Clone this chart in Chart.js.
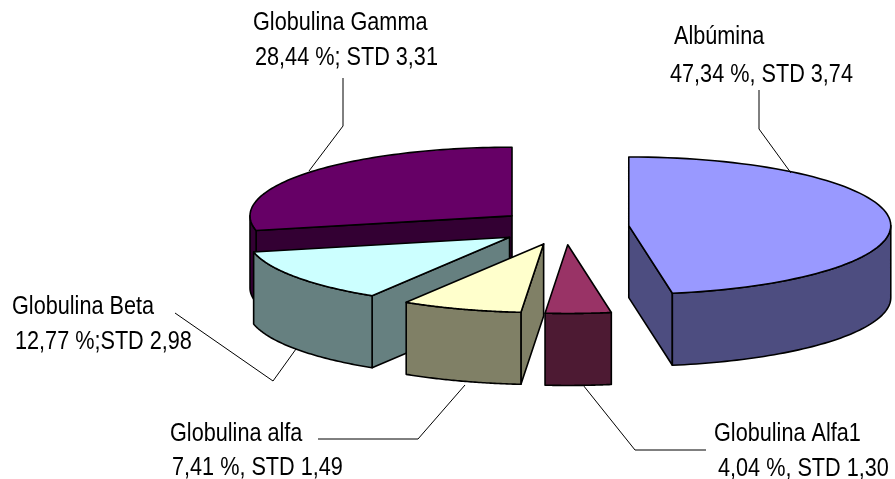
<!DOCTYPE html>
<html>
<head>
<meta charset="utf-8">
<title>Proteinas</title>
<script src="https://cdn.jsdelivr.net/npm/chart.js@4"></script>
<style>
html,body{margin:0;padding:0;background:#fff;overflow:hidden;}
canvas{display:block;}
</style>
</head>
<body>
<canvas id="mainChart" width="895" height="479"></canvas>
<script>
// ================= DATA =================
const categories = ["Albúmina","Globulina Alfa1","Globulina alfa","Globulina Beta","Globulina Gamma"]
const percentages = [47.34,4.04,7.41,12.77,28.44]
const details = ["47,34 %, STD 3,74","4,04 %, STD 1,30","7,41 %, STD 1,49","12,77 %;STD 2,98","28,44 %; STD 3,31"]

// ================= STYLE =================
const topColors = ["#9999ff","#993366","#ffffcc","#ccffff","#660066"]
const sideColors = ["#4d4d80","#4d1a33","#808066","#668080","#330033"]
const explode = [64,68,68,68,68]

const CX = 565, CY = 227, SQUASH = 0.262, RADIUS = 262, DEPTH = 72
const FONT_PX = 25, TEXT_SQUEEZE = 0.866

// name x,y then detail x,y
const labelPos = [
[674,44,670,82],
[714,441,718,476],
[170,441,172,475],
[12,314,15,349],
[253,30,255,65]
]

// leader lines
const leaders = [
[[759,90],[759,129],[791,173]],
[[583,385],[635,450],[706,450]],
[[318,439],[418,439],[465,385]],
[[175,313],[273,381],[296,349]],
[[343,78],[343,126],[309,171]]
]

// ================= PROJECTION =================
function sliceGeo(el,i){
let mid = (el.startAngle+el.endAngle)/2
let ox = Math.cos(mid)*explode[i]
let oy = Math.sin(mid)*explode[i]
return {
ox,oy,
at(a,drop){
return [CX+ox+el.outerRadius*Math.cos(a), CY+SQUASH*(oy+el.outerRadius*Math.sin(a))+(drop||0)]
},
center(drop){
return [CX+ox, CY+SQUASH*oy+(drop||0)]
}
}
}

function quad(ctx,pts,fill){
ctx.beginPath()
pts.forEach((p,n)=>{ n?ctx.lineTo(p[0],p[1]):ctx.moveTo(p[0],p[1]) })
ctx.closePath()
ctx.fillStyle = fill
ctx.fill()
ctx.stroke()
}

function drawWalls(ctx,el,i){
let g = sliceGeo(el,i)
let s = el.startAngle, e = el.endAngle

// radial faces, only those turned to the viewer
if(Math.cos(s)<-1e-6) quad(ctx,[g.center(),g.at(s),g.at(s,DEPTH),g.center(DEPTH)],sideColors[i])
if(Math.cos(e)>1e-6) quad(ctx,[g.center(),g.at(e),g.at(e,DEPTH),g.center(DEPTH)],sideColors[i])

// outer face, only the front half can be seen
let from = Math.max(s,0), to = Math.min(e,Math.PI)
if(to>from){
let pts = []
for(let n=0;n<=60;n++) pts.push(g.at(from+(to-from)*n/60))
for(let n=60;n>=0;n--) pts.push(g.at(from+(to-from)*n/60,DEPTH))
quad(ctx,pts,sideColors[i])
}
}

const pie3d = {
id:"pie3d",
beforeDatasetsDraw(chart){
let ctx = chart.ctx
let arcs = chart.getDatasetMeta(0).data

ctx.save()
ctx.strokeStyle = "#000"
ctx.lineWidth = 1.6
ctx.lineJoin = "round"
for(let i=arcs.length-1;i>=0;i--) drawWalls(ctx,arcs[i],i)

// the library's own arcs squashed into the tilted top faces
// (its offset option also grows the radius, so the slices are moved here)
arcs.forEach((el,i)=>{
let g = sliceGeo(el,i)
ctx.save()
ctx.translate(CX,CY)
ctx.scale(1,SQUASH)
ctx.translate(g.ox-el.x,g.oy-el.y)
el.draw(ctx)
ctx.restore()

ctx.beginPath()
let c = g.center()
ctx.moveTo(c[0],c[1])
for(let n=0;n<=80;n++){
let p = g.at(el.startAngle+(el.endAngle-el.startAngle)*n/80)
ctx.lineTo(p[0],p[1])
}
ctx.closePath()
ctx.stroke()
})
ctx.restore()
return false
},
afterDraw(chart){
let ctx = chart.ctx
ctx.save()
ctx.strokeStyle = "#000"
ctx.lineWidth = 1
leaders.forEach(l=>{
ctx.beginPath()
l.forEach((p,n)=>{ n?ctx.lineTo(p[0],p[1]):ctx.moveTo(p[0],p[1]) })
ctx.stroke()
})
ctx.fillStyle = "#000"
ctx.font = FONT_PX+'px "Liberation Sans"'
ctx.textBaseline = "alphabetic"
function put(text,x,y){
ctx.save()
ctx.translate(x,y)
ctx.scale(TEXT_SQUEEZE,1)
ctx.fillText(text,0,0)
ctx.restore()
}
categories.forEach((name,i)=>{
let p = labelPos[i]
put(name,p[0],p[1])
put(details[i],p[2],p[3])
})
ctx.restore()
}
}

// ================= MAIN =================
new Chart(document.getElementById("mainChart"),{
type:"pie",
data:{
labels:categories,
datasets:[{
data:percentages,
backgroundColor:topColors,
borderWidth:0
}]
},
options:{
responsive:false,
animation:false,
radius:RADIUS,
plugins:{legend:{display:false},tooltip:{enabled:false}}
},
plugins:[pie3d]
})
</script>
</body>
</html>
